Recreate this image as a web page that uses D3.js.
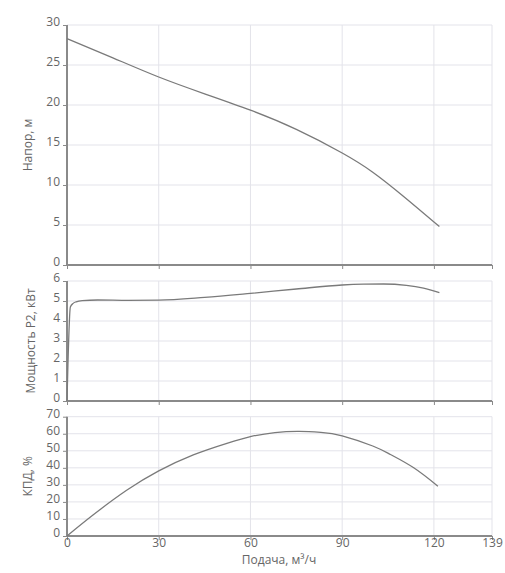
<!DOCTYPE html>
<html><head><meta charset="utf-8">
<script src="https://cdn.jsdelivr.net/npm/d3@7"></script>
<style>
html,body{margin:0;padding:0;background:#fff;}
svg text{font-family:"Open Sans",sans-serif;fill:#666;}
</style></head>
<body><svg id="c" width="505" height="573"></svg>
<script>
const xTicks = [0, 30, 60, 90, 120, 139];
const xTitle = "Подача, м³/ч";

const headFlow = [0, 15, 30, 45, 60, 75, 90, 100, 110, 121.8];
const headVals = [28.3, 25.9, 23.5, 21.4, 19.35, 16.95, 14.0, 11.6, 8.6, 4.8];
const headTicks = [0, 5, 10, 15, 20, 25, 30];

const powerFlow = [0, 0.3, 1.1, 2, 3, 5, 10, 20, 30, 45, 60, 75, 90, 97, 103.5, 111, 116.6, 121.8];
const powerVals = [0, 1.8, 4.7, 4.88, 4.96, 5.02, 5.05, 5.03, 5.04, 5.18, 5.38, 5.6, 5.8, 5.84, 5.85, 5.78, 5.64, 5.42];
const powerTicks = [0, 1, 2, 3, 4, 5, 6];

const effFlow = [0, 8.5, 19.5, 30, 41.3, 52.3, 60, 68, 76, 83, 90, 100, 105.8, 113.4, 121.3];
const effVals = [0, 12.3, 26.8, 38.2, 47.6, 54.4, 58.3, 60.7, 61.4, 60.8, 58.8, 52.8, 47.8, 40, 29.2];
const effTicks = [0, 10, 20, 30, 40, 50, 60, 70];

const svg = d3.select("#c");
const x = d3.scaleLinear().domain([0, 139]).range([67, 492]);

const panels = [
  {title: "Напор, м", flow: headFlow, vals: headVals, ticks: headTicks, range: [265, 25], titleX: 32, showX: false, curve: d3.curveNatural},
  {title: "Мощность Р2, кВт", flow: powerFlow, vals: powerVals, ticks: powerTicks, range: [401, 281], titleX: 35, showX: false, curve: d3.curveMonotoneX},
  {title: "КПД, %", flow: effFlow, vals: effVals, ticks: effTicks, range: [536, 416.7], titleX: 32, showX: true, curve: d3.curveNatural}
];

panels.forEach(p => {
  const y = d3.scaleLinear().domain([0, d3.max(p.ticks)]).range(p.range);
  const g = svg.append("g");
  g.selectAll(".hg").data(p.ticks).join("line")
    .attr("x1", x(0)).attr("x2", x(139))
    .attr("y1", d => y(d)).attr("y2", d => y(d))
    .attr("stroke", "#e3e3ea").attr("stroke-width", 1);
  g.selectAll(".vg").data(xTicks).join("line")
    .attr("x1", d => x(d)).attr("x2", d => x(d))
    .attr("y1", p.range[0]).attr("y2", p.range[1])
    .attr("stroke", "#e3e3ea").attr("stroke-width", 1);
  const ya = d3.axisLeft(y).tickValues(p.ticks).tickSize(4).tickPadding(3).tickFormat(d3.format("d"));
  const yg = g.append("g").attr("transform", `translate(${x(0)},0)`).call(ya);
  yg.select(".domain").attr("stroke", "#8a8a8a").attr("stroke-width", 2).attr("d", `M0,${p.range[0]}V${p.range[1]}`);
  yg.selectAll(".tick line").attr("stroke", "#8a8a8a");
  yg.selectAll(".tick text").attr("font-size", 12).attr("fill", "#666").attr("dy", "0.05em")
    .attr("font-family", "Open Sans, sans-serif");
  const xa = d3.axisBottom(x).tickValues(xTicks).tickSize(4).tickPadding(2);
  if (!p.showX) xa.tickFormat("");
  const xg = g.append("g").attr("transform", `translate(0,${p.range[0]})`).call(xa);
  xg.select(".domain").attr("stroke", "#8a8a8a").attr("stroke-width", 2).attr("d", `M${x(0)-1},0H${x(139)}`);
  xg.selectAll(".tick line").attr("stroke", "#8a8a8a");
  xg.selectAll(".tick text").attr("font-size", 12).attr("fill", "#666")
    .attr("y", 11).attr("dy", 0)
    .attr("font-family", "Open Sans, sans-serif");
  const pts = p.flow.map((f, i) => [f, p.vals[i]]);
  g.append("path").datum(pts)
    .attr("fill", "none").attr("stroke", "#7a7a7a").attr("stroke-width", 1.3)
    .attr("d", d3.line().x(d => x(d[0])).y(d => y(d[1])).curve(p.curve));
  const cy = (p.range[0] + p.range[1]) / 2;
  g.append("text").attr("transform", `translate(${p.titleX},${cy}) rotate(-90)`)
    .attr("text-anchor", "middle").attr("font-size", 12).text(p.title);
});

svg.append("text").attr("x", 279).attr("y", 564).attr("text-anchor", "middle")
  .attr("font-size", 12).text(xTitle);
</script></body></html>
